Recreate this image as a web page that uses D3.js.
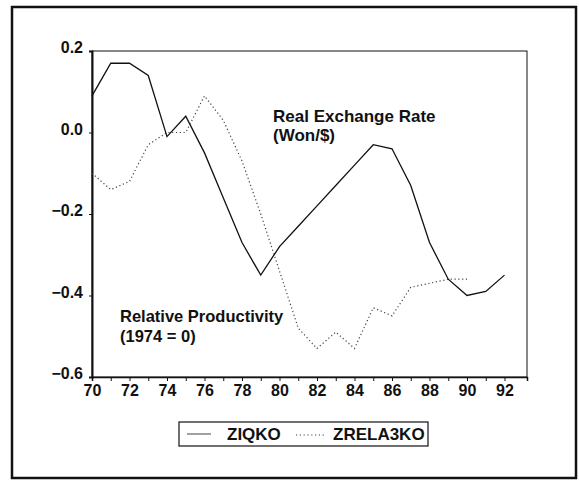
<!DOCTYPE html>
<html>
<head>
<meta charset="utf-8">
<script src="https://cdn.jsdelivr.net/npm/d3@7"></script>
<style>
  body { margin: 0; background: #fff; }
  svg text { font-family: "Liberation Sans", Arial, sans-serif; font-weight: bold; fill: #111; }
  .axis path, .axis line { stroke: #111; }
</style>
</head>
<body>
<svg id="chart" width="579" height="483"></svg>
<script>
// years (19xx) and the two series
var years = d3.range(70, 93);
var ziqko = [0.09, 0.17, 0.17, 0.14, -0.01, 0.04, -0.05, -0.16, -0.27, -0.35, -0.28,
             -0.23, -0.18, -0.13, -0.08, -0.03, -0.04, -0.13, -0.27, -0.36, -0.40, -0.39, -0.35];
var zrela3ko = [-0.10, -0.14, -0.12, -0.03, 0.0, 0.0, 0.09, 0.03, -0.07, -0.20, -0.34,
                -0.48, -0.53, -0.49, -0.53, -0.43, -0.45, -0.38, -0.37, -0.36, -0.36];
var yTicks = [0.2, 0.0, -0.2, -0.4, -0.6];
var seriesNames = ["ZIQKO", "ZRELA3KO"];

var svg = d3.select("#chart");

// outer frame
svg.append("rect")
    .attr("x", 12).attr("y", 7)
    .attr("width", 564).attr("height", 471)
    .attr("fill", "none")
    .attr("stroke", "#111")
    .attr("stroke-width", 2.5);

var x = d3.scaleLinear().domain([70, 93.2]).range([92, 527]);
var y = d3.scaleLinear().domain([-0.6, 0.2]).range([377, 51]);

// plot box
svg.append("rect")
    .attr("x", x(70)).attr("y", y(0.2))
    .attr("width", x(93.2) - x(70)).attr("height", y(-0.6) - y(0.2))
    .attr("fill", "none")
    .attr("stroke", "#111")
    .attr("stroke-width", 1);

var xAxis = svg.append("g")
    .attr("class", "axis")
    .attr("transform", "translate(0," + y(-0.6) + ")")
    .call(d3.axisBottom(x)
        .tickValues(years)
        .tickSize(4)
        .tickFormat(function(d) { return d % 2 == 0 ? d : ""; }));
xAxis.select(".domain").attr("stroke-width", 1.5);
xAxis.selectAll("text")
    .style("font-size", "16px")
    .attr("dy", "0.75em");

var yAxis = svg.append("g")
    .attr("class", "axis")
    .attr("transform", "translate(" + x(70) + ",0)")
    .call(d3.axisLeft(y)
        .tickValues(yTicks)
        .tickSize(3)
        .tickFormat(d3.format(".1f")));
yAxis.select(".domain").attr("stroke-width", 2);
yAxis.selectAll("text")
    .style("font-size", "16px")
    .attr("x", -9)
    .attr("dy", "0.1em");

var line = d3.line()
    .x(function(d, i) { return x(years[i]); })
    .y(function(d) { return y(d); });

svg.append("path")
    .datum(zrela3ko)
    .attr("fill", "none")
    .attr("stroke", "#444")
    .attr("stroke-width", 1.2)
    .attr("stroke-dasharray", "1.2,2.6")
    .attr("d", line);

svg.append("path")
    .datum(ziqko)
    .attr("fill", "none")
    .attr("stroke", "#111")
    .attr("stroke-width", 1.3)
    .attr("d", line);

// annotations
svg.append("text").attr("x", 273).attr("y", 122).style("font-size", "17px").text("Real Exchange Rate");
svg.append("text").attr("x", 273).attr("y", 141).style("font-size", "17px").text("(Won/$)");
svg.append("text").attr("x", 120).attr("y", 322).style("font-size", "16.5px").text("Relative Productivity");
svg.append("text").attr("x", 120).attr("y", 342).style("font-size", "16.5px").text("(1974 = 0)");

// legend
var lg = svg.append("g");
lg.append("rect")
    .attr("x", 179).attr("y", 422)
    .attr("width", 249).attr("height", 24)
    .attr("fill", "none")
    .attr("stroke", "#111")
    .attr("stroke-width", 1.2);
lg.append("line")
    .attr("x1", 187).attr("x2", 211).attr("y1", 434).attr("y2", 434)
    .attr("stroke", "#444").attr("stroke-width", 1);
lg.append("text").attr("x", 227).attr("y", 440).style("font-size", "17px").text(seriesNames[0]);
lg.append("line")
    .attr("x1", 296).attr("x2", 325).attr("y1", 435).attr("y2", 435)
    .attr("stroke", "#444").attr("stroke-width", 1.2)
    .attr("stroke-dasharray", "1.2,2.6");
lg.append("text").attr("x", 333).attr("y", 440).style("font-size", "17px").text(seriesNames[1]);
</script>
</body>
</html>
